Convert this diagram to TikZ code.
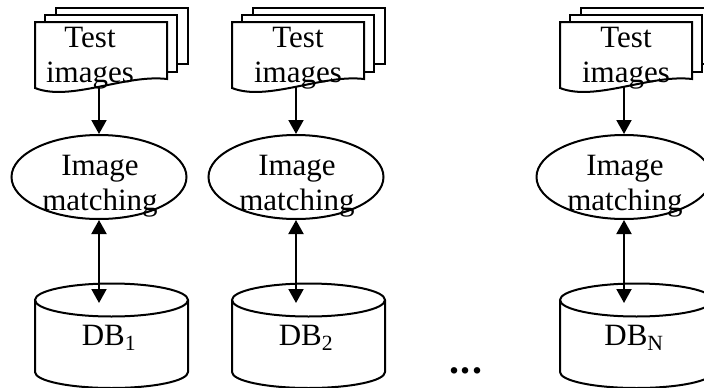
\documentclass[tikz,border=0pt]{standalone}
\usepackage{fontspec}
\setmainfont{Liberation Serif}
\usetikzlibrary{shapes.geometric,arrows.meta}

\begin{document}
\begin{tikzpicture}[x=1pt, y=-1pt, line width=2pt,
    every node/.style={font=\fontsize{31}{35}\selectfont, inner sep=0pt},
    page/.style={draw, fill=white},
    matcher/.style={draw, ellipse, minimum width=175pt, minimum height=84pt},
    link/.style={-{Triangle[length=14pt, width=15pt]}},
    twolink/.style={{Triangle[length=14pt, width=15pt]}-{Triangle[length=14pt, width=15pt]}}]

    \useasboundingbox (0,0) rectangle (704,388);

    % Figure 1: test images matched against DB_1
    \begin{scope}[shift={(0,0)}]
        \def\frontpage {(35,88) -- (35,22) -- (167,22) -- (167,79) .. controls (125,74) and (70,102) .. (35,88) -- cycle}
        \def\dbtop     {(111.5,300) ellipse (76.5pt and 16.5pt)}

        \draw[page] (56,8) rectangle (188,64);   % Draw the back pages
        \draw[page] (45,15) rectangle (177,72);
        \draw[page] \frontpage;                  % Draw the front page
        \draw \dbtop;                            % Draw the database
        \draw (35,300) -- (35,372) arc[start angle=180, end angle=360, x radius=76.5pt, y radius=16pt] -- (188,300);

        \node[anchor=base, align=center] (test1) at (90,82) {Test\\images};
        \node[matcher] (match1) at (99,177) {};
        \node[anchor=base, align=center] (label1) at (100,210) {Image\\matching};
        \node[anchor=base] (db1) at (109,345) {DB\textsubscript{1}};

        \coordinate (doc1) at (99,87);
        \coordinate (top1) at (99,303);
        \draw[link] (doc1) -- (match1.north);
        \draw[twolink] (match1.south) -- (top1);
    \end{scope}

    % Figure 2: test images matched against DB_2
    \begin{scope}[shift={(197,0)}]
        \def\frontpage {(35,88) -- (35,22) -- (167,22) -- (167,79) .. controls (125,74) and (70,102) .. (35,88) -- cycle}
        \def\dbtop     {(111.5,300) ellipse (76.5pt and 16.5pt)}

        \draw[page] (56,8) rectangle (188,64);   % Draw the back pages
        \draw[page] (45,15) rectangle (177,72);
        \draw[page] \frontpage;                  % Draw the front page
        \draw \dbtop;                            % Draw the database
        \draw (35,300) -- (35,372) arc[start angle=180, end angle=360, x radius=76.5pt, y radius=16pt] -- (188,300);

        \node[anchor=base, align=center] (test2) at (101,82) {Test\\images};
        \node[matcher] (match2) at (99,177) {};
        \node[anchor=base, align=center] (label2) at (100,210) {Image\\matching};
        \node[anchor=base] (db2) at (109,345) {DB\textsubscript{2}};

        \coordinate (doc2) at (99,87);
        \coordinate (top2) at (99,303);
        \draw[link] (doc2) -- (match2.north);
        \draw[twolink] (match2.south) -- (top2);
    \end{scope}

    \node[anchor=base, font=\fontsize{40}{40}\selectfont\bfseries] (dots) at (466,373) {.\kern1.5pt.\kern1.5pt.};

    % Figure 3: test images matched against DB_N
    \begin{scope}[shift={(525,0)}]
        \def\frontpage {(35,88) -- (35,22) -- (167,22) -- (167,79) .. controls (125,74) and (70,102) .. (35,88) -- cycle}
        \def\dbtop     {(111.5,300) ellipse (76.5pt and 16.5pt)}

        \draw[page] (56,8) rectangle (188,64);   % Draw the back pages
        \draw[page] (45,15) rectangle (177,72);
        \draw[page] \frontpage;                  % Draw the front page
        \draw \dbtop;                            % Draw the database
        \draw (35,300) -- (35,372) arc[start angle=180, end angle=360, x radius=76.5pt, y radius=16pt] -- (188,300);

        \node[anchor=base, align=center] (testN) at (101,82) {Test\\images};
        \node[matcher] (matchN) at (99,177) {};
        \node[anchor=base, align=center] (labelN) at (100,210) {Image\\matching};
        \node[anchor=base] (dbN) at (109,345) {DB\textsubscript{N}};

        \coordinate (docN) at (99,87);
        \coordinate (topN) at (99,303);
        \draw[link] (docN) -- (matchN.north);
        \draw[twolink] (matchN.south) -- (topN);
    \end{scope}
\end{tikzpicture}
\end{document}
